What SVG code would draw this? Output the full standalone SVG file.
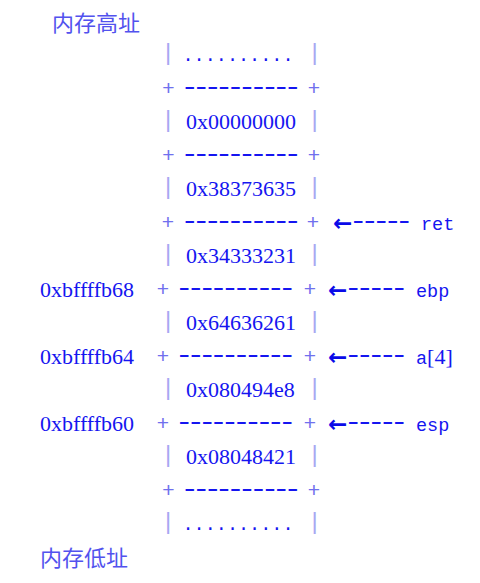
<svg xmlns="http://www.w3.org/2000/svg" width="480" height="583" viewBox="0 0 480 583">
<style>
.cn{font-family:"Noto Sans CJK SC","Noto Sans CJK JP",sans-serif;font-size:22px;fill:#5252ee}
.v{font-family:"Liberation Serif",serif;font-size:22px;fill:#1515f0}
.dots{font-family:"Liberation Mono",monospace;font-size:18.5px;fill:#1515f0}
.bar{font-family:"Liberation Sans",sans-serif;font-size:24px;fill:#a8a8f2;text-anchor:middle}
.pl{font-family:"Liberation Sans",sans-serif;font-size:21px;fill:#7070ee;text-anchor:middle}
.dash{font-family:"Liberation Sans",sans-serif;font-size:24px;fill:#1515f0}
.arr{font-family:"DejaVu Sans",sans-serif;font-size:23px;font-weight:bold;fill:#0a0ae8}
.lbl{font-family:"Liberation Mono",monospace;font-size:18.5px;fill:#1515f0}
</style>
<rect width="480" height="583" fill="#ffffff"/>
<text class="cn" x="52" y="30.5">内存高址</text>
<text class="cn" x="40" y="566">内存低址</text>

<g id="cells">
  <g id="cell-top">
    <text class="bar" x="168" y="60">|</text><text class="dots" x="182.5" y="61">..........</text><text class="bar" x="314.5" y="60">|</text>
  </g>
  <g id="cell-0">
    <text class="bar" x="168" y="127">|</text><text class="v" x="186" y="129">0x00000000</text><text class="bar" x="314.5" y="127">|</text>
  </g>
  <g id="cell-1">
    <text class="bar" x="168" y="194">|</text><text class="v" x="186" y="196">0x38373635</text><text class="bar" x="314.5" y="194">|</text>
  </g>
  <g id="cell-2">
    <text class="bar" x="168" y="261">|</text><text class="v" x="186" y="263">0x34333231</text><text class="bar" x="314.5" y="261">|</text>
  </g>
  <g id="cell-3">
    <text class="bar" x="168" y="328">|</text><text class="v" x="186" y="330">0x64636261</text><text class="bar" x="314.5" y="328">|</text>
  </g>
  <g id="cell-4">
    <text class="bar" x="168" y="395">|</text><text class="v" x="186" y="397">0x080494e8</text><text class="bar" x="314.5" y="395">|</text>
  </g>
  <g id="cell-5">
    <text class="bar" x="168" y="462">|</text><text class="v" x="186" y="464">0x08048421</text><text class="bar" x="314.5" y="462">|</text>
  </g>
  <g id="cell-bottom">
    <text class="bar" x="168" y="529">|</text><text class="dots" x="182.5" y="530">..........</text><text class="bar" x="314.5" y="529">|</text>
  </g>
</g>

<g id="separators">
  <g id="sep-1">
    <text class="pl" x="168.5" y="95">+</text><text class="dash" x="184" y="94.3" textLength="114.5" lengthAdjust="spacingAndGlyphs">----------</text><text class="pl" x="314" y="95">+</text>
  </g>
  <g id="sep-2">
    <text class="pl" x="168.5" y="162">+</text><text class="dash" x="184" y="161.3" textLength="114.5" lengthAdjust="spacingAndGlyphs">----------</text><text class="pl" x="314" y="162">+</text>
  </g>
  <g id="sep-ret">
    <text class="pl" x="168" y="229">+</text><text class="dash" x="184" y="228.3" textLength="114.5" lengthAdjust="spacingAndGlyphs">----------</text><text class="pl" x="313" y="229">+</text>
  </g>
  <g id="sep-ebp">
    <text class="v" x="40" y="297">0xbffffb68</text>
    <text class="pl" x="163" y="296">+</text><text class="dash" x="178.5" y="295.3" textLength="114.5" lengthAdjust="spacingAndGlyphs">----------</text><text class="pl" x="310" y="296">+</text>
  </g>
  <g id="sep-a4">
    <text class="v" x="40" y="363.5">0xbffffb64</text>
    <text class="pl" x="163" y="363">+</text><text class="dash" x="178.5" y="362.3" textLength="114.5" lengthAdjust="spacingAndGlyphs">----------</text><text class="pl" x="310" y="363">+</text>
  </g>
  <g id="sep-esp">
    <text class="v" x="40" y="430.5">0xbffffb60</text>
    <text class="pl" x="163" y="430">+</text><text class="dash" x="178.5" y="429.3" textLength="114.5" lengthAdjust="spacingAndGlyphs">----------</text><text class="pl" x="310" y="430">+</text>
  </g>
  <g id="sep-7">
    <text class="pl" x="168.5" y="497">+</text><text class="dash" x="184" y="496.3" textLength="114.5" lengthAdjust="spacingAndGlyphs">----------</text><text class="pl" x="314" y="497">+</text>
  </g>
</g>

<g id="pointers">
  <g id="ptr-ret">
    <text class="arr" x="333" y="230.5">←</text><text class="dash" x="352.6" y="228.3" textLength="57.5" lengthAdjust="spacingAndGlyphs">-----</text><text class="lbl" x="421" y="229.5">ret</text>
  </g>
  <g id="ptr-ebp">
    <text class="arr" x="328" y="297.5">←</text><text class="dash" x="347.6" y="295.3" textLength="57.5" lengthAdjust="spacingAndGlyphs">-----</text><text class="lbl" x="416" y="296.5">ebp</text>
  </g>
  <g id="ptr-a4">
    <text class="arr" x="328" y="364.5">←</text><text class="dash" x="347.6" y="362.3" textLength="57.5" lengthAdjust="spacingAndGlyphs">-----</text><text class="lbl" x="416" y="363.5">a<tspan style="font-family:'Liberation Serif',serif;font-size:22px">[4]</tspan></text>
  </g>
  <g id="ptr-esp">
    <text class="arr" x="328" y="431.5">←</text><text class="dash" x="347.6" y="429.3" textLength="57.5" lengthAdjust="spacingAndGlyphs">-----</text><text class="lbl" x="416" y="430.5">esp</text>
  </g>
</g>
</svg>
